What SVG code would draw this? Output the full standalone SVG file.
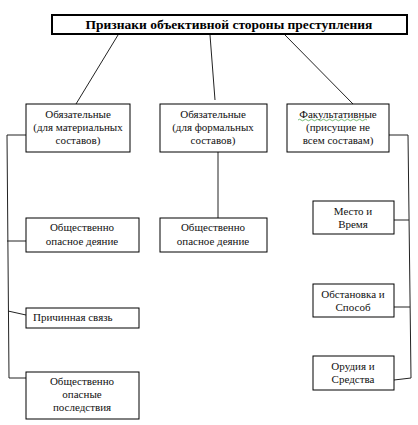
<svg xmlns="http://www.w3.org/2000/svg" width="418" height="425" viewBox="0 0 418 425">
<style>
.box{fill:#fff;stroke:#000;stroke-width:1}
.c{fill:none;stroke:#222;stroke-width:1}
</style>
<rect width="418" height="425" fill="#fff"/>
<g id="connectors">
<line class="c" x1="118" y1="35" x2="76" y2="104"/>
<line class="c" x1="210" y1="35" x2="215" y2="100"/>
<line class="c" x1="285" y1="35" x2="353" y2="104"/>
<polyline class="c" points="26,135 7,135 9,378 26,378"/>
<line class="c" x1="7" y1="241" x2="26" y2="241"/>
<line class="c" x1="8" y1="311" x2="26" y2="315"/>
<line class="c" x1="218" y1="152" x2="218" y2="218"/>
<polyline class="c" points="389,135 408,135 411,378 394,380"/>
<line class="c" x1="394" y1="220" x2="409" y2="220"/>
<line class="c" x1="394" y1="307" x2="410" y2="307"/>
</g>
<g font-family="Liberation Serif, Times New Roman, serif" font-size="11" fill="#111" text-anchor="middle">
<g id="title">
<rect x="52" y="15" width="355" height="19" fill="#fff" stroke="#000" stroke-width="2"/>
<text x="229" y="29" font-size="13.5" font-weight="bold" fill="#000">Признаки объективной стороны преступления</text>
</g>
<g id="n1">
<rect class="box" x="26" y="104" width="104" height="48"/>
<text x="78" y="118">Обязательные</text>
<text x="78" y="131">(для материальных</text>
<text x="78" y="144">составов)</text>
</g>
<g id="n2">
<rect class="box" x="160" y="104" width="107" height="48"/>
<text x="213" y="118">Обязательные</text>
<text x="213" y="131">(для формальных</text>
<text x="213" y="144">составов)</text>
</g>
<g id="n3">
<rect class="box" x="287" y="104" width="102" height="48"/>
<text x="338" y="118">Факультативные</text>
<path d="M298,120 q1.5,-1.5 3,0 t3,0 t3,0 t3,0 t3,0 t3,0 t3,0 t3,0 t3,0 t3,0 t3,0 t3,0 t3,0 t3,0 t3,0 t3,0 t3,0 t3,0 t3,0 t3,0 t3,0 t3,0 t3,0" fill="none" stroke="#5a5" stroke-width="0.8"/>
<text x="338" y="131">(присущие не</text>
<text x="338" y="144">всем составам)</text>
</g>
<g id="n4">
<rect class="box" x="26" y="218" width="113" height="34"/>
<text x="82" y="231">Общественно</text>
<text x="82" y="245">опасное деяние</text>
</g>
<g id="n5">
<rect class="box" x="26" y="308" width="113" height="20"/>
<text x="33" y="321" text-anchor="start">Причинная связь</text>
</g>
<g id="n6">
<rect class="box" x="26" y="372" width="113" height="47"/>
<text x="82" y="385">Общественно</text>
<text x="82" y="398">опасные</text>
<text x="82" y="411">последствия</text>
</g>
<g id="n7">
<rect class="box" x="160" y="218" width="107" height="34"/>
<text x="213" y="231">Общественно</text>
<text x="213" y="245">опасное деяние</text>
</g>
<g id="n8">
<rect class="box" x="313" y="201" width="81" height="33"/>
<text x="353" y="215">Место и</text>
<text x="353" y="228">Время</text>
</g>
<g id="n9">
<rect class="box" x="313" y="284" width="81" height="33"/>
<text x="353" y="298">Обстановка и</text>
<text x="353" y="311">Способ</text>
</g>
<g id="n10">
<rect class="box" x="313" y="356" width="81" height="34"/>
<text x="353" y="370">Орудия и</text>
<text x="353" y="383">Средства</text>
</g>
</g>
</svg>
